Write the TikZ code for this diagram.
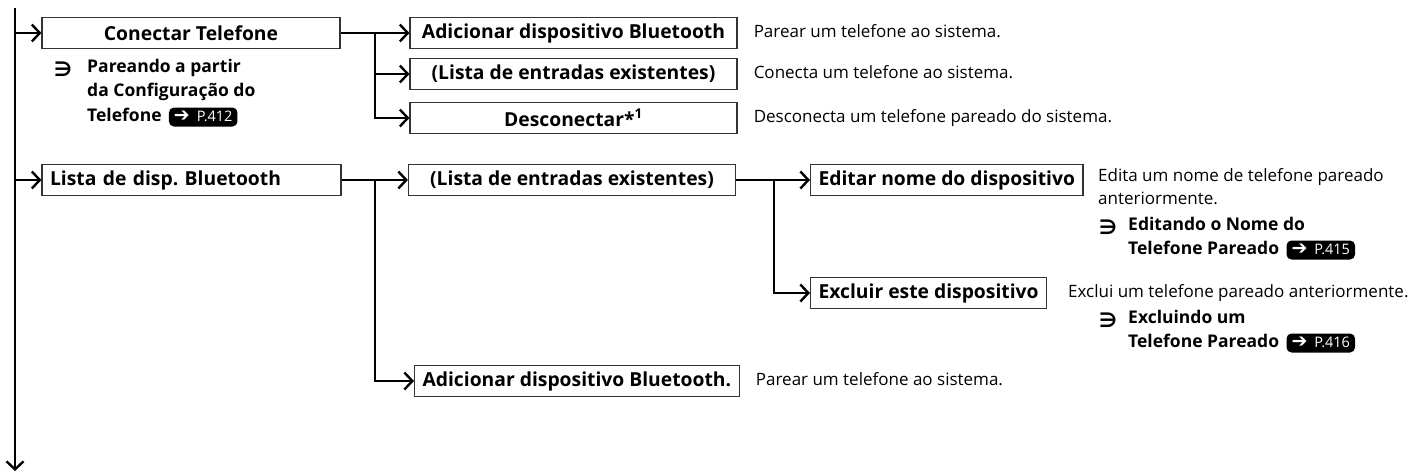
\documentclass[tikz,border=0pt]{standalone}
\usepackage{fontspec}
\setmainfont{Open Sans}
\newfontfamily\symfont{DejaVu Sans}
\usetikzlibrary{arrows.meta,positioning}
\frenchspacing

\newcommand{\basefont}{\fontsize{17}{24}\selectfont}
\newcommand{\boxfont}{\fontsize{19.3}{24}\selectfont\bfseries}
\tikzset{
 menubox/.style={draw=black!80,line width=1.1pt,font=\boxfont,minimum height=31pt,inner xsep=8pt,inner ysep=0pt},
 widebox/.style={menubox,minimum width=327pt},
 desc/.style={anchor=west,inner sep=0pt,text height=12pt,text depth=4pt,font=\basefont},
 refnote/.style={desc,font=\fontsize{17.5}{24}\selectfont\bfseries},
 refmark/.style={inner sep=0pt,font=\symfont\fontsize{20}{20}\selectfont\bfseries},
 pagebadge/.style={fill=black,text=white,rounded corners=5pt,inner xsep=5pt,inner ysep=2pt,text height=12pt,text depth=3pt,font=\fontsize{14.5}{14.5}\selectfont},
 trunk/.style={line width=2.4pt},
 link/.style={trunk,-{Straight Barb[length=8pt,width=17pt]}}
}
\newcommand{\pagetag}[1]{{\symfont\bfseries\fontsize{19}{14}\selectfont ➔}\hspace{7pt}#1}

\begin{document}
\begin{tikzpicture}[x=1pt,y=1pt]
\useasboundingbox (0,0) rectangle (1410,-474);
\coordinate (top) at (15,-8);
\coordinate (bottom) at (15,-471);
\draw[link] (top) -- (bottom);

% first level
\node[menubox,minimum width=298pt] (conTel) at (191,-33) {Conectar Telefone};
\node[menubox,text width=283pt,align=left] (btList) at (191.5,-180) {Lista de disp. Bluetooth};
\draw[link] (conTel.west -| top) -- (conTel.west);
\draw[link] (btList.west -| top) -- (btList.west);

\node[refmark] (pairMark) at (63,-69) {∋};
\node[refnote] (pairRefA) at (87,-68) {Pareando a partir};
\node[refnote] (pairRefB) at (87,-92) {da Configuração do};
\node[refnote] (pairRefC) at (87,-117) {Telefone};
\node[pagebadge,right=7pt of pairRefC] (pairPage) {\pagetag{P.412}};

% Conectar Telefone
\coordinate (conFork) at (375,-33);
\node[widebox] (addDev) at (573.5,-33) {Adicionar dispositivo Bluetooth};
\node[widebox] (entries) at (573.5,-74) {(Lista de entradas existentes)};
\node[widebox] (discon) at (573.5,-118) {Desconectar*\textsuperscript{1}};
\draw[trunk] (conTel.east) -- (conFork);
\draw[link] (conFork) -- (addDev.west);
\draw[link] (conFork) |- (entries.west);
\draw[link] (conFork) |- (discon.west);
\node[desc,right=16pt of addDev] (addDevTxt) {Parear um telefone ao sistema.};
\node[desc,right=16pt of entries] (entriesTxt) {Conecta um telefone ao sistema.};
\node[desc,right=16pt of discon] (disconTxt) {Desconecta um telefone pareado do sistema.};

% Lista de disp. Bluetooth
\coordinate (listFork) at (375,-180);
\node[widebox] (devEntries) at (572,-180) {(Lista de entradas existentes)};
\node[menubox,anchor=west] (addDevB) at (414,-381) {Adicionar dispositivo Bluetooth.};
\draw[trunk] (btList.east) -- (listFork);
\draw[link] (listFork) -- (devEntries.west);
\draw[link] (listFork) |- (addDevB.west);
\node[desc,right=16pt of addDevB] (addDevBTxt) {Parear um telefone ao sistema.};

% entradas existentes
\coordinate (entFork) at (774,-180);
\node[menubox,anchor=west] (editDev) at (810,-180) {Editar nome do dispositivo};
\node[menubox,anchor=west] (delDev) at (810,-293) {Excluir este dispositivo};
\draw[trunk] (devEntries.east) -- (entFork);
\draw[link] (entFork) -- (editDev.west);
\draw[link] (entFork) |- (delDev.west);

\node[desc] (editTxtA) at (1098,-177) {Edita um nome de telefone pareado};
\node[desc] (editTxtB) at (1098,-200) {anteriormente.};
\node[refmark] (editMark) at (1108,-227) {∋};
\node[refnote] (editRefA) at (1128,-226) {Editando o Nome do};
\node[refnote] (editRefB) at (1128,-250) {Telefone Pareado};
\node[pagebadge,right=7pt of editRefB] (editPage) {\pagetag{P.415}};

\node[desc] (delTxt) at (1068,-293) {Exclui um telefone pareado anteriormente.};
\node[refmark] (delMark) at (1108,-320) {∋};
\node[refnote] (delRefA) at (1128,-319) {Excluindo um};
\node[refnote] (delRefB) at (1128,-343) {Telefone Pareado};
\node[pagebadge,right=7pt of delRefB] (delPage) {\pagetag{P.416}};
\end{tikzpicture}
\end{document}
